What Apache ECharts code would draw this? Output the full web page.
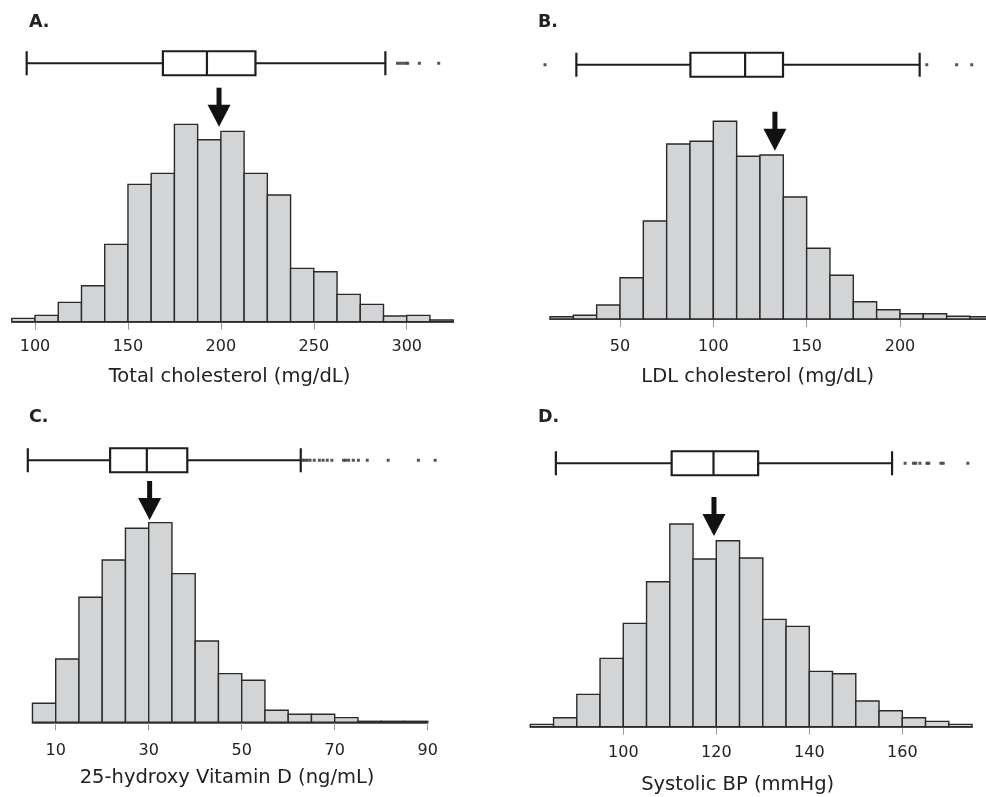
<!DOCTYPE html>
<html>
<head>
<meta charset="utf-8">
<script src="https://cdn.jsdelivr.net/npm/echarts@6/dist/echarts.min.js"></script>
<style>
  html, body { margin: 0; padding: 0; background: #fff; }
  #main { width: 986px; height: 797px; }
</style>
</head>
<body>
<div id="main"></div>
<script>
// A. Total cholesterol (mg/dL)
var cholEdges = [87.5, 100, 112.5, 125, 137.5, 150, 162.5, 175, 187.5, 200, 212.5, 225, 237.5, 250, 262.5, 275, 287.5, 300, 312.5, 325];
var cholFreq = [3.3, 6.3, 19.3, 36, 77.3, 137.3, 148.3, 197.3, 182, 190.3, 148.3, 126.7, 53.3, 50, 27.3, 17.3, 5.7, 6.3, 1.7];
var cholBox = [95.5, 168.8, 192.5, 218.6, 288.5];
var cholOutliers = [295, 296.5, 298, 299.5, 300.5, 306.8, 317.2];
var cholArrow = [199, 195];
var cholTicks = [100, 150, 200, 250, 300];

// B. LDL cholesterol (mg/dL)
var ldlEdges = [12.5, 25, 37.5, 50, 62.5, 75, 87.5, 100, 112.5, 125, 137.5, 150, 162.5, 175, 187.5, 200, 212.5, 225, 237.5, 250];
var ldlFreq = [2.3, 3.7, 14, 41.3, 98, 175, 177.7, 197.7, 162.7, 164, 122, 70.7, 43.7, 17.3, 9.3, 5.3, 5.3, 2.7, 2.3];
var ldlBox = [26.6, 87.7, 117, 137.3, 210.5];
var ldlOutliers = [9.8, 214.3, 230.3, 238.4];
var ldlArrow = [133, 168.3];
var ldlTicks = [50, 100, 150, 200];

// C. 25-hydroxy Vitamin D (ng/mL)
var vitdEdges = [5, 10, 15, 20, 25, 30, 35, 40, 45, 50, 55, 60, 65, 70, 75, 80, 85, 90];
var vitdFreq = [19, 63.3, 125, 162.3, 194, 199.7, 148.7, 81.3, 48.7, 42, 12, 8, 8, 4.7, 1, 1, 1];
var vitdBox = [4.0, 21.7, 29.6, 38.3, 62.7];
var vitdOutliers = [63.1, 63.6, 64.1, 64.7, 65.6, 66.7, 67.5, 68.4, 69.4, 71.9, 72.4, 73, 74, 75.1, 77, 81.5, 88, 91.6];
var vitdArrow = [30.2, 202.3];
var vitdTicks = [10, 30, 50, 70, 90];

// D. Systolic BP (mmHg)
var sbpEdges = [80, 85, 90, 95, 100, 105, 110, 115, 120, 125, 130, 135, 140, 145, 150, 155, 160, 165, 170, 175];
var sbpFreq = [2.3, 9, 32.3, 68.3, 103.3, 145, 202.7, 167.7, 186, 168.7, 107.3, 100.3, 55.3, 53, 25.7, 16, 9, 5.3, 2.3];
var sbpBox = [85.5, 110.4, 119.4, 129, 157.8];
var sbpOutliers = [160.6, 162.4, 162.9, 163.8, 165.3, 165.7, 168.3, 168.8, 174.1];
var sbpArrow = [119.5, 190.7];
var sbpTicks = [100, 120, 140, 160];

var panels = [
  { tag: 'A.', name: 'Total cholesterol (mg/dL)', edges: cholEdges, freq: cholFreq, box: cholBox, out: cholOutliers, arrow: cholArrow, ticks: cholTicks,
    hist: { left: 11.8, top: 81.7, width: 441.4 }, bx: { left: 11.8, top: 51, width: 441.4, min: 87.5, max: 325 },
    tagPos: [29, 13], labelGap: 25, nameGap: 55, namePad: 6 },
  { tag: 'B.', name: 'LDL cholesterol (mg/dL)', edges: ldlEdges, freq: ldlFreq, box: ldlBox, out: ldlOutliers, arrow: ldlArrow, ticks: ldlTicks,
    hist: { left: 550, top: 79, width: 443.3 }, bx: { left: 526.7, top: 52.5, width: 466.7, min: 0, max: 250 },
    tagPos: [538, 13], labelGap: 28, nameGap: 57.5, namePad: 28 },
  { tag: 'C.', name: '25-hydroxy Vitamin D (ng/mL)', edges: vitdEdges, freq: vitdFreq, box: vitdBox, out: vitdOutliers, arrow: vitdArrow, ticks: vitdTicks,
    hist: { left: 32.45, top: 482.3, width: 395.25 }, bx: { left: 9.2, top: 448, width: 441.75, min: 0, max: 95 },
    tagPos: [29, 408], labelGap: 29, nameGap: 56, namePad: 6 },
  { tag: 'D.', name: 'Systolic BP (mmHg)', edges: sbpEdges, freq: sbpFreq, box: sbpBox, out: sbpOutliers, arrow: sbpArrow, ticks: sbpTicks,
    hist: { left: 530.3, top: 486.7, width: 441.75 }, bx: { left: 530.3, top: 451, width: 441.75, min: 80, max: 175 },
    tagPos: [538, 408], labelGap: 26, nameGap: 58, namePad: 27 }
];

var FONT = "'DejaVu Sans', 'Liberation Sans', Arial, sans-serif";
var HIST_H = 240;  // 1 unit = 1px

var option = {
  backgroundColor: '#fff',
  animation: false,
  textStyle: { fontFamily: FONT },
  title: [], grid: [], xAxis: [], yAxis: [], series: []
};

panels.forEach(function (p, i) {
  var gh = i * 2, gb = i * 2 + 1;
  option.title.push({
    text: p.tag, left: p.tagPos[0], top: p.tagPos[1], padding: 0,
    textStyle: { fontFamily: FONT, fontSize: 17.5, fontWeight: 'bold', color: '#222' }
  });

  // histogram grid
  option.grid.push({ left: p.hist.left, top: p.hist.top, width: p.hist.width, height: HIST_H, outerBoundsMode: 'none' });
  // boxplot grid
  option.grid.push({ left: p.bx.left, top: p.bx.top, width: p.bx.width, height: 24.5, outerBoundsMode: 'none' });

  option.xAxis.push({
    gridIndex: gh, type: 'value',
    min: p.edges[0], max: p.edges[p.edges.length - 1],
    splitLine: { show: false },
    axisLine: { show: true, onZero: false, lineStyle: { color: '#333', width: 1.5 } },
    axisTick: { show: true, customValues: p.ticks, length: 8, lineStyle: { color: '#999', width: 1 } },
    axisLabel: { customValues: p.ticks, margin: p.labelGap, verticalAlign: 'middle', fontSize: 16, color: '#222', fontFamily: FONT },
    name: p.name, nameLocation: 'middle', nameGap: p.nameGap,
    nameTextStyle: { fontSize: 19.5, color: '#222', fontFamily: FONT, verticalAlign: 'middle', padding: [0, p.namePad, 0, 0] }
  });
  option.yAxis.push({ gridIndex: gh, type: 'value', min: 0, max: HIST_H, show: false });

  option.xAxis.push({ gridIndex: gb, type: 'value', min: p.bx.min, max: p.bx.max, show: false });
  option.yAxis.push({ gridIndex: gb, type: 'category', data: ['box'], show: false });

  var bins = p.freq.map(function (f, k) { return [p.edges[k], p.edges[k + 1], f]; });

  option.series.push({
    type: 'custom', xAxisIndex: gh, yAxisIndex: gh,
    encode: { x: [0, 1], y: 2 },
    data: bins,
    renderItem: function (params, api) {
      var a = api.coord([api.value(0), api.value(2)]);
      var b = api.coord([api.value(1), 0]);
      return {
        type: 'rect',
        shape: { x: a[0], y: a[1], width: b[0] - a[0], height: b[1] - a[1] },
        style: { fill: '#d3d4d6', stroke: '#2a2a2a', lineWidth: 1.4 }
      };
    }
  });

  // arrow marking the reference value
  option.series.push({
    type: 'custom', xAxisIndex: gh, yAxisIndex: gh, clip: false, z: 5,
    data: [p.arrow],
    renderItem: function (params, api) {
      var t = api.coord([api.value(0), api.value(1)]);
      return {
        type: 'group',
        children: [
          { type: 'rect', shape: { x: t[0] - 2.5, y: t[1] - 39, width: 5, height: 18 }, style: { fill: '#111' } },
          { type: 'polygon', shape: { points: [[t[0] - 11.5, t[1] - 22], [t[0] + 11.5, t[1] - 22], [t[0], t[1]]] }, style: { fill: '#111' } }
        ]
      };
    }
  });

  option.series.push({
    type: 'boxplot', xAxisIndex: gb, yAxisIndex: gb,
    layout: 'horizontal',
    boxWidth: [24, 24],
    data: [p.box],
    itemStyle: { color: '#fff', borderColor: '#1e1e1e', borderWidth: 2.2 }
  });

  option.series.push({
    type: 'scatter', xAxisIndex: gb, yAxisIndex: gb,
    symbol: 'rect', symbolSize: [3, 3],
    itemStyle: { color: '#2a2a2a' },
    data: p.out.map(function (v) { return [v, 0]; })
  });
});

var chart = echarts.init(document.getElementById('main'));
chart.setOption(option);
</script>
</body>
</html>
